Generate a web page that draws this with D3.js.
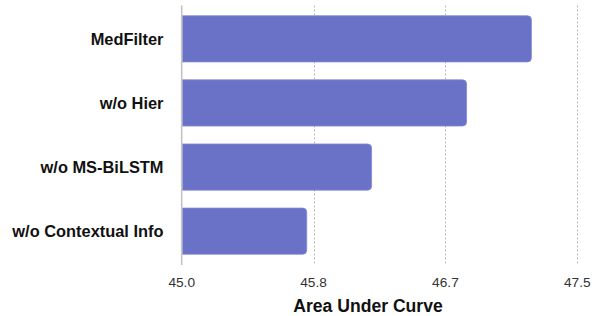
<!DOCTYPE html>
<html>
  <body>
    <script src="https://d3js.org/d3.v7.min.js" charset="utf-8"></script>
    <style>
      body{ margin: 0; background: #fff; font-family: "Liberation Sans", Arial, Helvetica, sans-serif;}
      .bar{ fill: #6a72c7; stroke: #8088d2; stroke-width: 0.8;}
      .grid line{ stroke: #b8b8b8; stroke-dasharray: 2,2; stroke-width: 1;}
      .label{ font-weight: bold; font-size: 16.4px; fill: #111; text-anchor: end;}
      .tick-label{ font-size: 13.7px; fill: #333; text-anchor: middle;}
      .title{ font-weight: bold; font-size: 17.6px; fill: #111; text-anchor: middle;}
    </style>
    <script>
var categories = ['MedFilter', 'w/o Hier', 'w/o MS-BiLSTM', 'w/o Contextual Info']
  , values = [47.21, 46.80, 46.20, 45.79]
  , tickValues = [45.0, 45 + 2.5 / 3, 45 + 5 / 3, 47.5]
  , tickLabels = ['45.0', '45.8', '46.7', '47.5']
  , width = 600, height = 316

var svg = d3.select('body').append('svg')
  .attr('width', width).attr('height', height)

var x = d3.scaleLinear().domain([45, 47.5]).range([181.7, 577.3])
var y = d3.scaleBand().domain(categories).range([5.5, 264.5])
  .paddingInner(0.28).paddingOuter(0.16)

// dotted vertical gridlines
svg.append('g').attr('class', 'grid')
  .selectAll('line').data(tickValues.slice(1))
  .enter().append('line')
  .attr('x1', function(d){ return Math.round(x(d)) + 0.5 })
  .attr('x2', function(d){ return Math.round(x(d)) + 0.5 })
  .attr('y1', 5.5).attr('y2', 265)

// bars, rounded on the right end only
function barPath(d, i){
  var x0 = x(45) + 0.5, x1 = x(d), y0 = y(categories[i]), h = y.bandwidth(), r = 4
  return 'M' + x0 + ',' + y0 + 'H' + (x1 - r) + 'Q' + x1 + ',' + y0 + ' ' + x1 + ',' + (y0 + r)
    + 'V' + (y0 + h - r) + 'Q' + x1 + ',' + (y0 + h) + ' ' + (x1 - r) + ',' + (y0 + h)
    + 'H' + x0 + 'Z'
}
svg.selectAll('.bar').data(values)
  .enter().append('path').attr('class', 'bar')
  .attr('d', barPath)

// baseline axis
svg.append('line')
  .attr('x1', x(45)).attr('x2', x(45))
  .attr('y1', 5.5).attr('y2', 265)
  .attr('stroke', '#c4c4c4').attr('stroke-width', 1.6)

svg.selectAll('.label').data(categories)
  .enter().append('text').attr('class', 'label')
  .attr('x', 163.5)
  .attr('y', function(d){ return y(d) + y.bandwidth() / 2 })
  .attr('dy', '0.36em')
  .text(function(d){ return d })

svg.selectAll('.tick-label').data(tickValues)
  .enter().append('text').attr('class', 'tick-label')
  .attr('x', function(d){ return x(d) })
  .attr('y', 286.5)
  .text(function(d, i){ return tickLabels[i] })

svg.append('text').attr('class', 'title')
  .attr('x', 368).attr('y', 312)
  .text('Area Under Curve')
    </script>
  </body>
</html>
